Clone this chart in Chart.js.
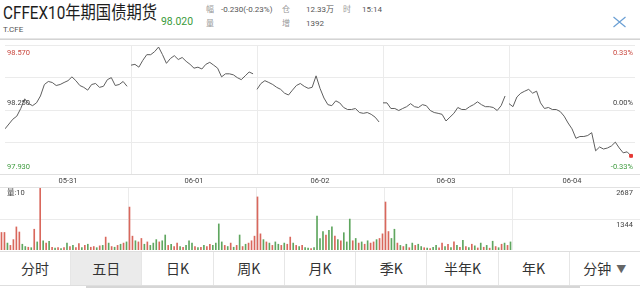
<!DOCTYPE html>
<html><head><meta charset="utf-8">
<script src="https://cdn.jsdelivr.net/npm/chart.js@4"></script>
<style>
html,body{margin:0;padding:0;background:#fff;width:640px;height:288px;overflow:hidden;font-family:Roboto,"Noto Sans CJK SC",sans-serif;}
.abs{position:absolute;white-space:nowrap;}
#tabs{position:absolute;left:0;top:251px;width:640px;height:33px;border-top:1px solid #dedede;border-bottom:1px solid #dedede;display:flex;}
#tabs div{flex:1;text-align:center;line-height:33px;font-size:14px;color:#333;border-left:1px solid #e6e6e6;font-family:"Noto Sans CJK SC",Roboto,sans-serif;}
#tabs div:first-child{border-left:none;}
#tabs div.sel{background:#ebebeb;}
#tabs span.arr{font-size:10px;color:#666;margin-left:5px;vertical-align:1px;}
</style></head><body>

<script>
// ---------- data ----------
const title = 'CFFEX10年期国债期货';
const code = 'T.CFE';
const lastPrice = '98.020';
const infoRow1 = [['幅','-0.230(-0.23%)'],['仓','12.33万'],['时','15:14']];
const infoRow2 = [['量','9.670'],['增','1392']];
const dates = ['05-31','06-01','06-02','06-03','06-04'];
const priceMax = 98.57, prevSettle = 98.25, priceMin = 97.93;
const priceGridValues = [98.57, 98.41, 98.25, 98.09, 97.93];
const priceTickValues = [98.57, 98.25, 97.93];
const priceTickLabels = ['98.570','98.250','97.930'];
const pctTickLabels = ['0.33%','0.00%','-0.33%'];
const volMax = 2687, volMid = 1344;
const volTickLabels = ['2687','1344'];
const volTitle = '量:10';
const tabs = ['分时','五日','日K','周K','月K','季K','半年K','年K','分钟'];

const price0531 = [98.154,98.178,98.202,98.217,98.255,98.303,98.279,98.269,98.283,98.317,98.374,98.389,98.384,98.369,98.374,98.384,
                   98.393,98.412,98.393,98.369,98.360,98.346,98.374,98.379,98.360,98.365,98.398,98.408,98.369,98.374,98.389,98.365];
const price0601 = [98.470,98.474,98.460,98.494,98.522,98.522,98.537,98.560,98.522,98.479,98.503,98.517,98.498,98.508,98.489,98.474,
                   98.455,98.460,98.451,98.474,98.484,98.470,98.455,98.412,98.427,98.427,98.422,98.408,98.398,98.417,98.436,98.427];
const price0602 = [98.350,98.379,98.393,98.384,98.374,98.360,98.350,98.331,98.322,98.346,98.369,98.379,98.365,98.355,98.360,98.417,
                   98.355,98.307,98.274,98.269,98.293,98.283,98.260,98.250,98.250,98.255,98.235,98.231,98.235,98.226,98.212,98.188];
const price0603 = [98.283,98.283,98.255,98.255,98.245,98.255,98.264,98.279,98.264,98.260,98.274,98.269,98.245,98.235,98.231,98.226,
                   98.193,98.212,98.231,98.260,98.250,98.250,98.264,98.274,98.288,98.274,98.264,98.264,98.260,98.245,98.269,98.317];
const price0604 = [98.279,98.264,98.312,98.331,98.341,98.350,98.331,98.341,98.283,98.255,98.260,98.250,98.250,98.240,98.217,98.183,
                   98.154,98.107,98.116,98.116,98.121,98.135,98.045,98.064,98.054,98.059,98.069,98.088,98.059,98.035,98.040,98.020];

const vol0531 = [760,760,300,200,450,1000,780,250,150,120, 100,900,350,2687,400,300,380,120,80,100,
                 60,100,300,150,200,100,280,100,200,250, 120,150,100,180,200,560,300,150,120,200, 250,300,350];
const dir0531 = 'rrgrrrrggr'+'grgrgrgrgr'+'grgrgrrgrg'+'rrgrgrgrgr'+'grg';
const vol0601 = [1860,600,400,350,500,250,350,200,300,450, 350,400,650,200,250,150,300,150,120,200,
                 400,300,150,100,120,200,150,250,200,300, 1130,350,200,150,300,120,200,650,150,250, 300,400,600];
const dir0601 = 'rrgrrgrggg'+'rggrgrrgrg'+'ggrgrgrrgg'+'ggrgrgrgrg'+'rrr';
const vol0602 = [2300,700,450,350,300,200,350,250,200,300, 250,560,300,200,150,200,100,80,60,100,
                 1470,500,800,650,850,1000,600,450,400,750, 350,1340,400,500,300,350,250,400,300,350, 450,500,700];
const dir0602 = 'rrgrgrggrg'+'rrgrgrggrg'+'gggrggrgrg'+'ggrgrgrgrr'+'grr';
const vol0603 = [2080,800,500,900,300,200,150,250,100,300, 200,250,150,100,80,60,120,200,90,300,
                 150,250,100,350,200,120,420,150,100,250, 180,90,300,120,200,80,380,150,100,250, 300,200,350];
const dir0603 = 'rrggrgrgrg'+'rggrgrggrr'+'grgrgrgrgr'+'grgrgrgrgr'+'grg';

const priceDays = [price0531, price0601, price0602, price0603, price0604];
const volDays = [vol0531, vol0601, vol0602, vol0603];
const dirDays = [dir0531, dir0601, dir0602, dir0603];
</script>

<!-- header -->
<div id="title" class="abs" style="left:3px;top:2px;font-size:18px;line-height:22px;color:#1d1d1d;transform-origin:0 0;"></div>
<div id="code" class="abs" style="left:3px;top:25px;font-size:8px;line-height:10px;color:#555;"></div>
<div id="last" class="abs" style="left:161px;top:16px;font-size:11px;line-height:12px;color:#3a9a3a;"></div>
<div id="info" class="abs" style="left:0;top:0;font-size:8px;color:#555;"></div>
<svg class="abs" style="left:612px;top:16px" width="15" height="12"><path d="M1.5 1 L13.5 11 M13.5 1 L1.5 11" stroke="#6a9fd4" stroke-width="1.2" fill="none"/></svg>
<div class="abs" style="left:0;top:38px;width:640px;height:1px;background:#e6e6e6;"></div>
<div class="abs" style="left:0;top:39px;width:640px;height:1px;background:#d4d4d4;"></div>

<div class="abs" style="left:0;top:40px;width:640px;height:147px;"><canvas id="pc" width="640" height="147"></canvas></div>
<div class="abs" style="left:0;top:187px;width:640px;height:1px;background:#e2e2e2;"></div>
<div class="abs" style="left:0;top:188px;width:640px;height:63px;"><canvas id="vc" width="640" height="63"></canvas></div>

<div id="tabs"></div>
<div class="abs" style="left:86px;top:286px;width:494px;height:2px;background:#d6d6d6;"></div>

<script>
// header text
const t = document.getElementById('title'); t.textContent = title;
t.style.transform = 'scaleX(' + (154 / t.getBoundingClientRect().width) + ')';
document.getElementById('code').textContent = code;
const lp = document.getElementById('last'); lp.textContent = lastPrice;
lp.style.transformOrigin='0 0'; lp.style.transform='scaleX(' + (32 / lp.getBoundingClientRect().width) + ')';
const info = document.getElementById('info');
function addTxt(txt, x, y, color, align){
  const d = document.createElement('div'); d.className='abs'; d.textContent = txt;
  d.style.top = y+'px'; d.style.lineHeight='10px'; d.style.color=color;
  if(align==='right'){ d.style.right = (640-x)+'px'; } else { d.style.left = x+'px'; }
  info.appendChild(d);
}
addTxt(infoRow1[0][0],206,5,'#999'); addTxt(infoRow1[0][1],221,5,'#555');
addTxt(infoRow1[1][0],282,5,'#999'); addTxt(infoRow1[1][1],306,5,'#555');
addTxt(infoRow1[2][0],343,5,'#999'); addTxt(infoRow1[2][1],362,5,'#555');
addTxt(infoRow2[0][0],206,19,'#999'); addTxt(infoRow2[0][1],272,19,'#555','right');
addTxt(infoRow2[1][0],282,19,'#999'); addTxt(infoRow2[1][1],306,19,'#555');

// tabs
const tb = document.getElementById('tabs');
tabs.forEach((s,i)=>{
  const d=document.createElement('div'); d.textContent=s; if(i===1) d.className='sel';
  if(i===tabs.length-1){ const a=document.createElement('span'); a.className='arr'; a.textContent='▼'; d.appendChild(a); }
  tb.appendChild(d);
});

const RED='#c9483f', GREEN='#3f9b3f', DARK='#444', GRID='#ebebeb';
const perDay = price0531.length;
const volPerDay = vol0531.length;

// ---------- price chart ----------
const priceDatasets = priceDays.map((arr,d)=>({
  data: arr.map((p,k)=>({x:d*perDay+k, y:p})),
  borderColor:'#5e5e5e', borderWidth:1, tension:0,
  pointRadius: d===priceDays.length-1 ? (c=>c.dataIndex===arr.length-1?2:0) : 0,
  pointStyle:'rect', pointBackgroundColor:'#e53935', pointBorderColor:'#e53935'
}));

const priceGrid = {
  id:'priceGrid',
  beforeDatasetsDraw(chart){
    const {ctx, chartArea:ca, scales:{x,y}} = chart;
    ctx.save(); ctx.strokeStyle=GRID; ctx.lineWidth=1;
    priceGridValues.forEach(v=>{ const py=Math.round(y.getPixelForValue(v))+0.5; ctx.beginPath(); ctx.moveTo(ca.left,py); ctx.lineTo(ca.right,py); ctx.stroke(); });
    for(let d=1; d<dates.length; d++){ const px=Math.round(x.getPixelForValue(d*perDay))+0.5; ctx.beginPath(); ctx.moveTo(px,ca.top); ctx.lineTo(px,ca.bottom); ctx.stroke(); }
    ctx.strokeStyle='#e0e0e0'; ctx.beginPath(); ctx.moveTo(0,ca.bottom+0.5); ctx.lineTo(640,ca.bottom+0.5); ctx.stroke();
    ctx.restore();
  },
  afterDraw(chart){
    const {ctx, chartArea:ca, scales:{x,y}} = chart;
    ctx.save(); ctx.font='7.5px Roboto'; ctx.textBaseline='middle';
    const cols=[RED,DARK,GREEN], offs=[8,-6,-7];
    priceTickValues.forEach((v,i)=>{
      const py=y.getPixelForValue(v)+offs[i];
      ctx.fillStyle=cols[i];
      ctx.textAlign='left'; ctx.fillText(priceTickLabels[i], 7, py);
      ctx.textAlign='right'; ctx.fillText(pctTickLabels[i], 633, py);
    });
    ctx.fillStyle=DARK; ctx.textAlign='center';
    dates.forEach((s,d)=>{ ctx.fillText(s, x.getPixelForValue(d*perDay+perDay/2), ca.bottom+7); });
    ctx.restore();
  }
};

new Chart(document.getElementById('pc'), {
  type:'line',
  data:{datasets:priceDatasets},
  options:{
    responsive:false, animation:false, events:[],
    layout:{padding:{top:0,bottom:13,left:0,right:0}},
    plugins:{legend:{display:false}, tooltip:{enabled:false}},
    scales:{
      x:{type:'linear', min:0, max:perDay*dates.length, display:false},
      y:{min:priceMin, max:priceMax, display:false}
    }
  },
  plugins:[priceGrid]
});

// ---------- volume chart ----------
const volData=[], volColors=[];
volDays.forEach((arr,d)=>arr.forEach((v,i)=>{ volData.push({x:d*volPerDay+i+0.5, y:v}); volColors.push(dirDays[d][i]==='r'?'#d9675c':'#5fa65f'); }));

const volGrid = {
  id:'volGrid',
  beforeDatasetsDraw(chart){
    const {ctx, chartArea:ca, scales:{x,y}} = chart;
    ctx.save(); ctx.strokeStyle=GRID; ctx.lineWidth=1;
    const py=Math.round(y.getPixelForValue(volMid))+0.5; ctx.beginPath(); ctx.moveTo(ca.left,py); ctx.lineTo(ca.right,py); ctx.stroke();
    for(let d=1; d<dates.length; d++){ const px=Math.round(x.getPixelForValue(d*volPerDay))+0.5; ctx.beginPath(); ctx.moveTo(px,ca.top-1); ctx.lineTo(px,ca.bottom); ctx.stroke(); }
    ctx.restore();
  },
  afterDraw(chart){
    const {ctx, chartArea:ca, scales:{y}} = chart;
    ctx.save(); ctx.font='7.5px Roboto, "Noto Sans CJK SC"'; ctx.textBaseline='middle'; ctx.fillStyle=DARK;
    ctx.textAlign='left'; ctx.fillText(volTitle, 7, y.getPixelForValue(volMax)+5);
    ctx.textAlign='right'; ctx.fillText(volTickLabels[0], 633, y.getPixelForValue(volMax)+5);
    ctx.fillText(volTickLabels[1], 633, y.getPixelForValue(volMid)+6);
    ctx.restore();
  }
};

new Chart(document.getElementById('vc'), {
  type:'bar',
  data:{datasets:[{data:volData, backgroundColor:volColors, barThickness:1, borderWidth:0}]},
  options:{
    responsive:false, animation:false, events:[],
    layout:{padding:{top:0,bottom:1,left:0,right:0}},
    plugins:{legend:{display:false}, tooltip:{enabled:false}},
    scales:{
      x:{type:'linear', min:0, max:volPerDay*dates.length, display:false, offset:false},
      y:{min:0, max:volMax, display:false}
    }
  },
  plugins:[volGrid]
});
</script>
</body></html>
